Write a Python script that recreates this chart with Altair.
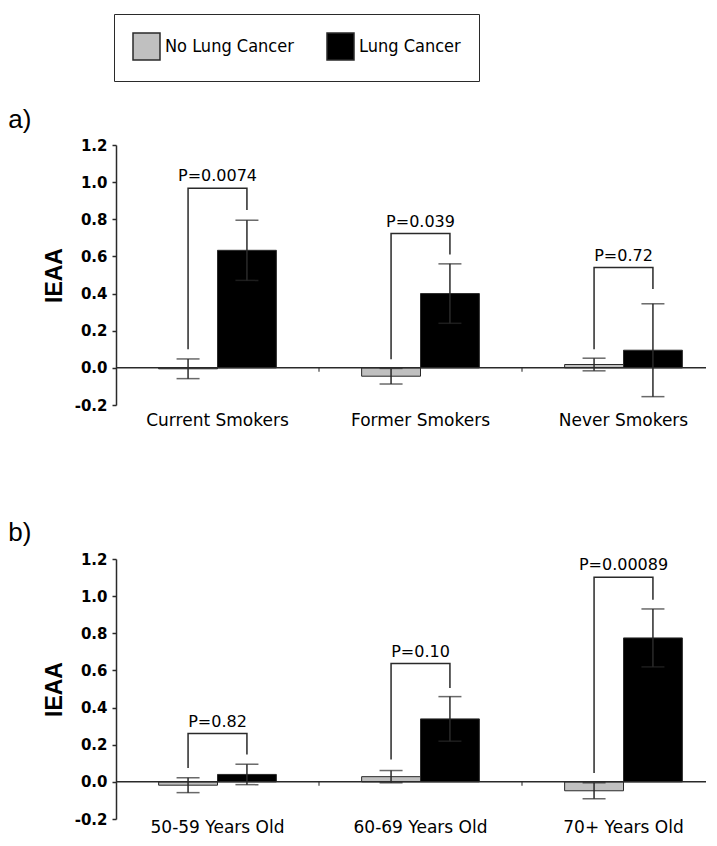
import altair as alt
import pandas as pd

groups = ["No Lung Cancer", "Lung Cancer"]

cats_a = ["Current Smokers", "Former Smokers", "Never Smokers"]
no_a = [-0.005, -0.045, 0.018]
no_err_a = [0.053, 0.042, 0.034]
lc_a = [0.633, 0.40, 0.095]
lc_err_a = [0.162, 0.16, 0.25]
p_a = ["P=0.0074", "P=0.039", "P=0.72"]
br_left_a = [0.10, 0.047, 0.10]
br_top_a = [0.967, 0.723, 0.54]
br_right_a = [0.85, 0.61, 0.425]

cats_b = ["50-59 Years Old", "60-69 Years Old", "70+ Years Old"]
no_b = [-0.018, 0.028, -0.048]
no_err_b = [0.04, 0.033, 0.043]
lc_b = [0.04, 0.339, 0.775]
lc_err_b = [0.055, 0.12, 0.156]
p_b = ["P=0.82", "P=0.10", "P=0.00089"]
br_left_b = [0.075, 0.12, 0.048]
br_top_b = [0.26, 0.637, 1.102]
br_right_b = [0.147, 0.506, 0.98]

y_ticks = [-0.2, 0.0, 0.2, 0.4, 0.6, 0.8, 1.0, 1.2]
LINE = "#2a2a2a"

Y_AXIS = alt.Axis(title="IEAA", values=y_ticks, format=".1f", grid=False,
                  labelExpr="replace(datum.label, '\u2212', '-')",
                  tickSize=4, labelPadding=5, labelFont="DejaVu Sans", labelFontSize=15,
                  labelFontWeight="bold", labelColor="black",
                  titleFont="Liberation Sans", titleFontSize=23,
                  titleFontWeight="bold", titleColor="black", titlePadding=8,
                  domainColor=LINE, domainWidth=1.5, tickColor=LINE, tickWidth=1.5)


def panel(cats, no, no_err, lc, lc_err, pvals, bl, bt, br, label, title_off, lab_dy):
    rows = []
    for i, c in enumerate(cats):
        rows.append(dict(cat=c, group=groups[0], value=no[i], lo=no[i] - no_err[i], hi=no[i] + no_err[i]))
        rows.append(dict(cat=c, group=groups[1], value=lc[i], lo=lc[i] - lc_err[i], hi=lc[i] + lc_err[i]))
    bars_df = pd.DataFrame(rows)

    brows = []
    for i, c in enumerate(cats):
        brows += [
            dict(cat=c, group=groups[0], ord=0, y=bl[i]),
            dict(cat=c, group=groups[0], ord=1, y=bt[i]),
            dict(cat=c, group=groups[1], ord=2, y=bt[i]),
            dict(cat=c, group=groups[1], ord=3, y=br[i]),
        ]
    br_df = pd.DataFrame(brows)
    txt_df = pd.DataFrame(dict(cat=cats, top=bt, p=pvals))
    sep_df = pd.DataFrame(dict(cat=cats[1:], z=[0.0] * (len(cats) - 1)))
    lab_df = pd.DataFrame(dict(cat=cats, base=[y_ticks[0]] * len(cats)))

    xscale = alt.Scale(domain=cats, paddingInner=0, paddingOuter=0, range=[0, 609])
    xs = alt.X("cat:N", sort=cats, scale=xscale, axis=None)
    xo = alt.XOffset("group:N", sort=groups,
                     scale=alt.Scale(domain=groups, paddingInner=0, paddingOuter=0.724))
    yscale = alt.Scale(domain=[y_ticks[0], y_ticks[-1]], nice=False)

    bars = alt.Chart(bars_df).mark_bar(stroke=LINE, strokeWidth=1).encode(
        x=xs, xOffset=xo,
        y=alt.Y("value:Q", scale=yscale, axis=Y_AXIS),
        color=alt.Color("group:N", sort=groups,
                        scale=alt.Scale(domain=groups, range=["#c0c0c0", "#000000"]),
                        legend=alt.Legend(title=None, orient="none", direction="horizontal",
                                          legendX=-2, legendY=-131,
                                          symbolType="square", symbolSize=729,
                                          symbolStrokeColor=LINE, symbolStrokeWidth=1.5,
                                          labelFont="DejaVu Sans Condensed, Liberation Sans",
                                          labelFontSize=18, labelColor="black",
                                          labelOffset=4, columnPadding=30,
                                          strokeColor=LINE, padding=18)),
    )
    err = alt.Chart(bars_df).mark_rule(color=LINE, strokeWidth=1.5).encode(
        x=xs, xOffset=xo, y=alt.Y("lo:Q", scale=yscale, axis=Y_AXIS), y2="hi:Q")
    caps_hi = alt.Chart(bars_df).mark_tick(color=LINE, thickness=1.5, size=23, orient="horizontal").encode(
        x=xs, xOffset=xo, y=alt.Y("hi:Q", scale=yscale, axis=Y_AXIS))
    caps_lo = alt.Chart(bars_df).mark_tick(color=LINE, thickness=1.5, size=23, orient="horizontal").encode(
        x=xs, xOffset=xo, y=alt.Y("lo:Q", scale=yscale, axis=Y_AXIS))
    brk = alt.Chart(br_df).mark_line(color=LINE, strokeWidth=1.5, interpolate="linear").encode(
        x=xs, xOffset=xo, y=alt.Y("y:Q", scale=yscale, axis=Y_AXIS),
        order="ord:Q", detail="cat:N")
    txt = alt.Chart(txt_df).mark_text(baseline="bottom", dy=-4, font="DejaVu Sans",
                                      fontSize=16, color="black").encode(
        x=xs, y=alt.Y("top:Q", scale=yscale, axis=Y_AXIS), text="p:N")
    labels = alt.Chart(lab_df).mark_text(baseline="middle", dy=lab_dy, font="DejaVu Sans",
                                         fontSize=17, color="black").encode(
        x=xs, y=alt.Y("base:Q", scale=yscale, axis=Y_AXIS), text="cat:N")
    zero = alt.Chart(pd.DataFrame({"z": [0.0]})).mark_rule(color=LINE, strokeWidth=1.5).encode(
        y=alt.Y("z:Q", scale=yscale, axis=Y_AXIS))
    seps = alt.Chart(sep_df).mark_tick(color=LINE, thickness=1.5, size=4, orient="vertical").encode(
        x=alt.X("cat:N", sort=cats, scale=xscale, bandPosition=0, axis=None),
        y=alt.Y("z:Q", scale=yscale, axis=Y_AXIS), yOffset=alt.value(2))

    return alt.layer(bars, zero, seps, err, caps_hi, caps_lo, brk, txt, labels).properties(
        width=590, height=260,
        title=alt.TitleParams(label, anchor="start", frame="bounds", font="Liberation Sans",
                              fontSize=26, fontWeight="normal", color="black", dx=-35,
                              offset=title_off))


pa = panel(cats_a, no_a, no_err_a, lc_a, lc_err_a, p_a, br_left_a, br_top_a, br_right_a, "a)", 5, 16)
pb = panel(cats_b, no_b, no_err_b, lc_b, lc_err_b, p_b, br_left_b, br_top_b, br_right_b, "b)", 6, 9)

chart = alt.vconcat(pa, pb, spacing=91).configure_view(stroke=None).properties(
    padding={"left": 0, "top": 5, "right": 0, "bottom": 0})

chart.save("out.html", embed_options={"renderer": "svg", "actions": False})
